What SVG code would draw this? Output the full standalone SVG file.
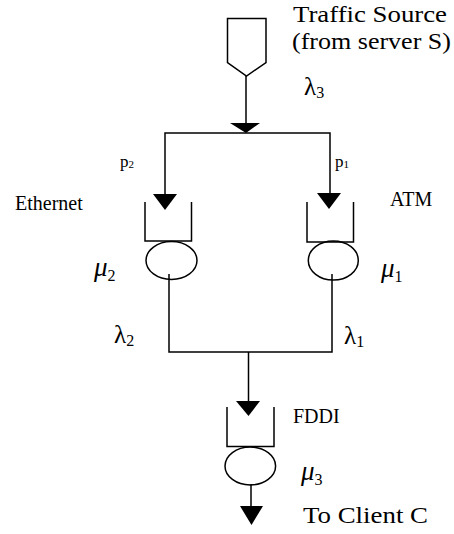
<svg xmlns="http://www.w3.org/2000/svg" width="454" height="534" viewBox="0 0 454 534">
<defs>
<style>
.ln{stroke:#000;stroke-width:1.5;fill:none}
.sh{stroke:#000;stroke-width:1.5;fill:#fff}
.hd{fill:#000;stroke:none}
.t{font-family:"Liberation Serif","Times New Roman",serif;fill:#000}
.big{font-size:24px}
.sm{font-size:20px}
.p{font-size:17px}
.lam{font-size:25px}
.sub{font-size:16px}
.mu{font-family:"Liberation Serif","Times New Roman",serif;font-style:italic;font-size:27px;fill:#000}
.musub{font-size:16px;font-style:normal}
</style>
</defs>
<rect width="454" height="534" fill="#fff"/>
<g id="connectors">
<line class="ln" x1="246" y1="76" x2="246" y2="124"/>
<polygon class="hd" points="230,123 260,123 246,133"/>
<polyline class="ln" points="165,198 165,133 330,133 330,198"/>
<polygon class="hd" points="153,194 177,194 165,210"/>
<polygon class="hd" points="317,193 341,193 329,209"/>
<polyline class="ln" points="169,274 169,352 332,352 332,274"/>
<line class="ln" x1="248.5" y1="352" x2="248.5" y2="405"/>
<polygon class="hd" points="236,401 260,401 248.5,416"/>
<line class="ln" x1="251" y1="484" x2="251" y2="510"/>
<polygon class="hd" points="240,506 263,506 251.5,525"/>
</g>
<g id="source">
<polygon class="sh" points="227.5,18.5 266,18.5 266,62.5 246.5,76 227.5,62.5"/>
<text class="t big" x="293" y="22" textLength="154" lengthAdjust="spacingAndGlyphs">Traffic Source</text>
<text class="t big" x="292" y="49" textLength="159" lengthAdjust="spacingAndGlyphs">(from server S)</text>
<text class="t lam" x="304" y="95">λ<tspan class="sub" dy="3">3</tspan></text>
</g>
<g id="label-p2"><text class="t p" x="120" y="167">p<tspan font-size="11" dy="1">2</tspan></text></g>
<g id="label-p1"><text class="t p" x="335" y="167">p<tspan font-size="11" dy="1">1</tspan></text></g>
<g id="ethernet">
<polyline class="ln" points="145,202 145,241 191.5,241 191.5,202"/>
<ellipse class="ln" cx="171.5" cy="260.5" rx="25.5" ry="19"/>
<text class="t sm" x="15" y="210">Ethernet</text>
<text class="mu" x="94" y="276">μ<tspan class="musub" dy="5">2</tspan></text>
<text class="t lam" x="114" y="343">λ<tspan class="sub" dy="3">2</tspan></text>
</g>
<g id="atm">
<polyline class="ln" points="307,202 307,242 353.5,242 353.5,202"/>
<ellipse class="ln" cx="333.3" cy="260.5" rx="25" ry="19.5"/>
<text class="t sm" x="390" y="206">ATM</text>
<text class="mu" x="381" y="277">μ<tspan class="musub" dy="5">1</tspan></text>
<text class="t lam" x="344" y="344">λ<tspan class="sub" dy="3">1</tspan></text>
</g>
<g id="fddi">
<polyline class="ln" points="227,407 227,446.5 274,446.5 274,407"/>
<ellipse class="ln" cx="250.3" cy="466" rx="25.3" ry="19"/>
<text class="t sm" x="293" y="423">FDDI</text>
<text class="mu" x="301" y="480">μ<tspan class="musub" dy="5">3</tspan></text>
<text class="t big" x="303" y="523" textLength="125" lengthAdjust="spacingAndGlyphs">To Client C</text>
</g>
</svg>
